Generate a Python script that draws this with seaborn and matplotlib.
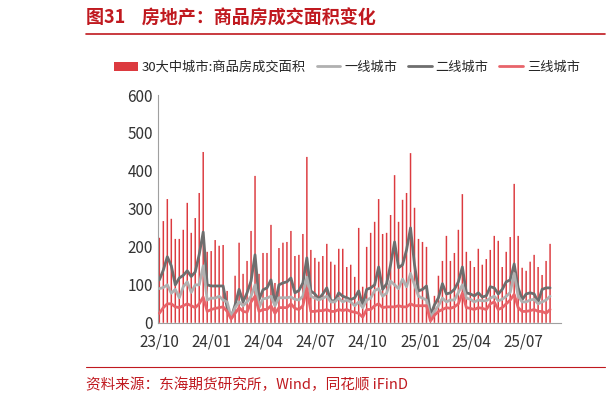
import numpy as np
import pandas as pd
import matplotlib
import matplotlib.pyplot as plt
import matplotlib.dates as mdates
import seaborn as sns

sns.set_style('white')
plt.rcParams['font.family'] = ['Noto Sans CJK SC', 'DejaVu Sans']

weeks = pd.date_range('2023-10-01', periods=99, freq='7D')

total_30 = [224, 268, 326, 274, 221, 221, 245, 316, 237, 276, 342, 450, 187, 189, 218, 203, 205, 84, 15, 124,
            211, 129, 163, 242, 387, 129, 184, 184, 258, 105, 197, 211, 213, 242, 176, 179, 234, 437, 192, 171,
            161, 176, 208, 161, 153, 195, 195, 147, 153, 121,
            250, 95, 200, 237, 266, 326, 234, 237, 284, 389, 266, 324, 342, 447, 303, 221, 213, 200, 10, 71,
            124, 163, 229, 163, 184, 245, 339, 187, 163, 147, 195, 153, 168, 192, 229, 216, 147, 187, 226, 366,
            229, 145, 137, 161, 179, 147, 126, 163, 208]
tier1 = [90, 93, 100, 78, 88, 66, 95, 108, 80, 100, 100, 150, 60, 65, 65, 70, 60, 55, 15, 40,
         55, 45, 55, 70, 100, 40, 63, 65, 70, 45, 66, 66, 66, 68, 62, 60, 70, 120, 70, 65,
         60, 65, 70, 55, 55, 65, 55, 60, 55, 45,
         55, 40, 60, 65, 85, 90, 70, 78, 110, 100, 90, 115, 95, 130, 100, 70, 65, 60, 15, 30,
         45, 65, 55, 60, 60, 80, 100, 65, 62, 55, 60, 58, 58, 65, 70, 58, 62, 70, 80, 130,
         70, 55, 55, 60, 62, 50, 55, 60, 70]
tier2 = [113, 139, 174, 150, 100, 118, 125, 137, 122, 134, 180, 239, 100, 97, 97, 97, 97, 40, 13, 47,
         88, 55, 79, 110, 179, 61, 87, 92, 113, 50, 100, 105, 108, 118, 79, 85, 105, 171, 84, 76,
         63, 76, 92, 58, 58, 79, 70, 66, 61, 66,
         84, 47, 88, 92, 100, 147, 88, 103, 153, 213, 145, 153, 192, 250, 153, 84, 88, 97, 21, 47,
         66, 103, 76, 79, 88, 108, 147, 79, 76, 71, 79, 68, 71, 95, 92, 76, 88, 108, 113, 155,
         92, 61, 76, 79, 76, 55, 88, 92, 92]
tier3 = [25, 40, 50, 50, 42, 40, 45, 50, 45, 40, 50, 68, 30, 35, 38, 40, 42, 30, 10, 25,
         40, 30, 28, 55, 70, 30, 35, 35, 45, 25, 40, 40, 40, 50, 38, 35, 45, 90, 30, 30,
         32, 32, 35, 30, 30, 35, 32, 35, 30, 28,
         25, 15, 35, 35, 45, 50, 40, 42, 42, 42, 45, 42, 42, 50, 45, 45, 45, 45, 5, 20,
         30, 35, 40, 38, 42, 50, 78, 40, 38, 35, 40, 38, 35, 50, 55, 35, 40, 50, 60, 75,
         40, 30, 30, 32, 35, 30, 30, 25, 35]

df = pd.DataFrame({'x': mdates.date2num(weeks), 'total': total_30, 't1': tier1, 't2': tier2, 't3': tier3})

fig = plt.figure(figsize=(6.11, 4.01), dpi=100)
ax = fig.add_axes([0.258, 0.195, 0.66, 0.568])

ax.bar(df['x'], df['total'], width=2.6, color='#dc3a3f', linewidth=0, snap=False,
       label='30大中城市:商品房成交面积', zorder=1)
sns.lineplot(data=df, x='x', y='t1', ax=ax, color='#b0b0b0', lw=2, label='一线城市', zorder=3)
sns.lineplot(data=df, x='x', y='t2', ax=ax, color='#6e6e6e', lw=2, label='二线城市', zorder=2)
sns.lineplot(data=df, x='x', y='t3', ax=ax, color='#e8646a', lw=2, label='三线城市', zorder=4)

ax.set_ylim(0, 600)
ax.set_yticks(range(0, 601, 100))
ax.set_xlim(mdates.date2num(pd.Timestamp('2023-09-28')), mdates.date2num(pd.Timestamp('2025-09-05')))
ax.xaxis.set_major_locator(mdates.MonthLocator(bymonth=[1, 4, 7, 10]))
ax.xaxis.set_major_formatter(mdates.DateFormatter('%y/%m'))
ax.set_xlabel('')
ax.set_ylabel('')
for s in ['top', 'right']:
    ax.spines[s].set_visible(False)
for s in ['left', 'bottom']:
    ax.spines[s].set_color('#a0a0a0')
ax.tick_params(axis='both', direction='out', length=4, color='#a0a0a0', labelsize=11, labelcolor='#333333')
ax.tick_params(axis='y', length=0)

handles, labels = ax.get_legend_handles_labels()
order = [labels.index(l) for l in ['30大中城市:商品房成交面积', '一线城市', '二线城市', '三线城市']]
ax.legend([handles[i] for i in order], [labels[i] for i in order], loc='lower center',
          bbox_to_anchor=(0.47, 1.04), ncol=4, frameon=False, fontsize=9.5,
          handlelength=1.8, columnspacing=0.8, handletextpad=0.3)

fig.text(0.14, 0.94, '图31    房地产：商品房成交面积变化', fontsize=13, color='#c0191f', fontweight='bold')
fig.add_artist(matplotlib.lines.Line2D([0.14, 0.99], [0.915, 0.915], color='#c0191f', lw=1.2))
fig.text(0.14, 0.03, '资料来源：东海期货研究所，Wind，同花顺 iFinD', fontsize=10.5, color='#c0191f')
fig.add_artist(matplotlib.lines.Line2D([0.14, 0.99], [0.085, 0.085], color='#c0191f', lw=0.8))

fig.savefig('out.png', dpi=100)
